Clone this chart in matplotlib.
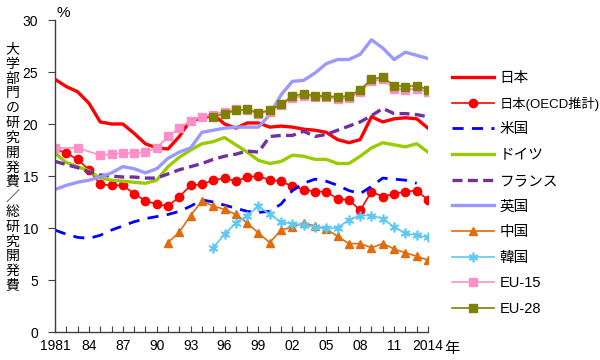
import matplotlib
matplotlib.use("Agg")
import matplotlib.pyplot as plt

plt.rcParams['font.family'] = ['Liberation Sans', 'Noto Sans CJK JP', 'DejaVu Sans']

years = list(range(1981, 2015))

japan = [24.3, 23.6, 23.1, 22.0, 20.2, 20.0, 20.0, 19.1, 18.1, 17.7, 17.6, 18.8, 20.4, 20.5, 20.9, 20.0, 19.6,
         20.1, 20.1, 19.7, 19.8, 19.7, 19.5, 19.4, 19.2, 18.5, 18.2, 18.5, 20.7, 20.2, 20.5, 20.6, 20.5, 19.6]
japan_oecd = [17.6, 17.2, 16.6, 15.6, 14.2, 14.1, 14.1, 13.3, 12.6, 12.3, 12.1, 13.0, 14.1, 14.2, 14.6, 14.8, 14.5,
              14.9, 15.0, 14.6, 14.5, 14.0, 13.7, 13.5, 13.5, 12.8, 12.7, 11.7, 13.5, 13.0, 13.3, 13.5, 13.6, 12.7]
usa = [9.8, 9.4, 9.1, 9.0, 9.3, 9.8, 10.2, 10.6, 10.9, 11.1, 11.3, 11.6, 12.1, 12.7, 12.5, 12.2, 11.9,
       11.6, 11.5, 11.6, 12.3, 13.6, 14.3, 14.7, 14.5, 14.1, 13.6, 13.3, 14.0, 14.8, 14.7, 14.6, 14.3, None]
germany = [17.2, 16.3, 15.9, 15.5, 14.8, 14.6, 14.5, 14.4, 14.3, 14.6, 15.9, 16.8, 17.5, 18.1, 18.3, 18.7, 18.0,
           17.3, 16.5, 16.2, 16.4, 17.0, 16.9, 16.6, 16.6, 16.2, 16.2, 16.9, 17.7, 18.2, 18.0, 17.8, 18.1, 17.3]
france = [16.4, 16.1, 15.8, 15.4, 15.1, 15.0, 14.9, 14.9, 14.8, 14.8, 15.2, 15.6, 15.9, 16.2, 16.6, 16.9, 17.1,
          17.4, 17.3, 18.8, 18.9, 18.9, 19.3, 18.8, 19.0, 19.4, 19.8, 20.2, 20.8, 21.5, 21.0, 21.0, 20.9, 20.7]
uk = [13.7, 14.1, 14.4, 14.6, 14.9, 15.3, 15.9, 15.7, 15.3, 15.7, 16.7, 17.3, 17.7, 19.2, 19.4, 19.6, 19.7,
      19.7, 19.7, 20.9, 22.8, 24.1, 24.2, 24.9, 25.8, 26.2, 26.2, 26.7, 28.1, 27.3, 26.2, 26.9, 26.6, 26.3]
china_years = list(range(1991, 2015))
china = [8.6, 9.6, 11.2, 12.6, 12.1, 11.8, 11.3, 10.5, 9.5, 8.6, 9.8, 10.1, 10.5, 10.2, 9.9, 9.2, 8.5, 8.5,
         8.1, 8.5, 8.0, 7.6, 7.3, 6.9]
korea_years = list(range(1995, 2015))
korea = [8.1, 9.4, 10.5, 11.2, 12.1, 11.3, 10.6, 10.4, 10.3, 10.1, 10.0, 10.0, 10.8, 11.2, 11.2, 10.9, 10.1,
         9.5, 9.3, 9.1]
eu15_years = [1981, 1983] + list(range(1985, 2015))
eu15 = [17.7, 17.7, 17.0, 17.1, 17.2, 17.2, 17.3, 17.7, 18.8, 19.6, 20.3, 20.7, 20.9, 21.2, 21.4,
        21.3, 21.0, 21.2, 21.8, 22.5, 22.7, 22.6, 22.6, 22.4, 22.5, 23.1, 24.1, 24.3, 23.4, 23.3, 23.4, 23.1]
eu28_years = list(range(1995, 2015))
eu28 = [20.7, 21.0, 21.3, 21.4, 21.1, 21.3, 21.9, 22.7, 22.9, 22.7, 22.7, 22.6, 22.7, 23.3, 24.3, 24.5,
        23.7, 23.6, 23.7, 23.3]

fig = plt.figure(figsize=(6, 3.6), dpi=100)
ax = fig.add_axes([55 / 600, 1 - 332 / 360, (428 - 55) / 600, (332 - 20) / 360])

ax.plot(years, japan, color='#FF0000', lw=2.4, label='日本')
ax.plot(years, japan_oecd, color='#FF0000', lw=1.2, marker='o', ms=6, label='日本(OECD推計)')
ax.plot(years, usa, color='#0000FF', lw=2.0, ls=(0, (4, 3)), label='米国')
ax.plot(years, germany, color='#99CC00', lw=2.4, label='ドイツ')
ax.plot(years, france, color='#7030A0', lw=2.4, ls=(0, (3, 1.6)), label='フランス')
ax.plot(years, uk, color='#9999FF', lw=2.4, label='英国')
ax.plot(china_years, china, color='#E26B0A', lw=1.2, marker='^', ms=6, label='中国')
ax.plot(korea_years, korea, color='#5BC8F5', lw=1.2, marker=(6, 2, 0), ms=7, mew=1.2, label='韓国')
ax.plot(eu15_years, eu15, color='#FF8FC8', lw=1.2, marker='s', ms=5.5, label='EU-15')
ax.plot(eu28_years, eu28, color='#808000', lw=1.2, marker='s', ms=5.5, label='EU-28')

ax.set_xlim(1981, 2014)
ax.set_ylim(0, 30)
ax.set_yticks(range(0, 31, 5))
ax.set_xticks(years)
ax.set_xticklabels(['1981' if y == 1981 else '2014' if y == 2014 else (f'{y % 100:02d}' if (y - 1981) % 3 == 0 else '')
                    for y in years])
ax.tick_params(axis='x', direction='in', length=4, pad=5, labelsize=10, color='#404040')
ax.tick_params(axis='y', direction='out', length=5, pad=7, labelsize=10, color='#404040')
for s in ['top', 'right']:
    ax.spines[s].set_visible(False)
for s in ['left', 'bottom']:
    ax.spines[s].set_color('#404040')
    ax.spines[s].set_linewidth(1.0)
ax.patch.set_alpha(0)

ax.text(0.005, 1.0, '%', transform=ax.transAxes, ha='left', va='bottom', fontsize=11)
fig.text(452 / 600, 1 - 349 / 360, '年', ha='center', va='center', fontsize=11)

ylabel = '大学部門の研究開発費／総研究開発費'
for i, ch in enumerate(ylabel):
    yc = 49 + i * (286 - 49) / (len(ylabel) - 1)
    fig.text(12.5 / 600, 1 - yc / 360, ch, ha='center', va='center', fontsize=10)

leg = fig.legend(*ax.get_legend_handles_labels(), loc='upper left', bbox_to_anchor=(452 / 600, 1 - 71 / 360),
                 frameon=False, fontsize=10.5, borderpad=0, borderaxespad=0, handlelength=2.9,
                 handletextpad=0.35, labelspacing=0.8, numpoints=1)
leg.get_texts()[1].set_fontsize(9.5)

fig.savefig('out.png', dpi=100)
